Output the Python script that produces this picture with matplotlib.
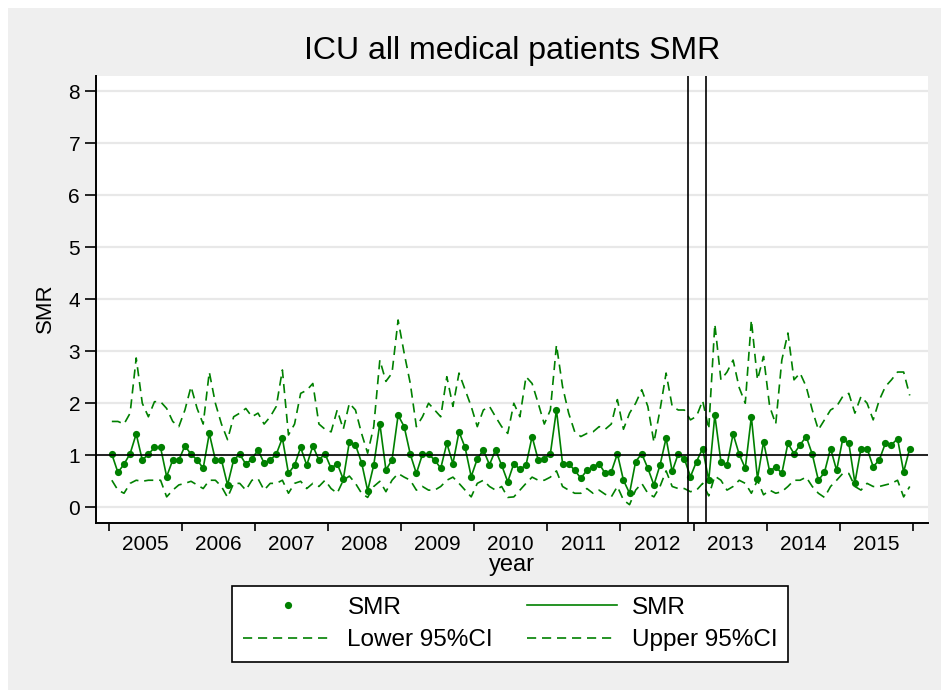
import numpy as np
import matplotlib
matplotlib.use("Agg")
import matplotlib.pyplot as plt
from matplotlib.patches import Rectangle

# monthly SMR, Jan 2005 - Dec 2015
smr = [1.02, 0.67, 0.83, 1.03, 1.41, 0.91, 1.02, 1.15, 1.15, 0.59, 0.91, 0.91,
       1.18, 1.02, 0.91, 0.75, 1.42, 0.91, 0.91, 0.43, 0.91, 1.02, 0.83, 0.93,
       1.10, 0.85, 0.91, 1.02, 1.33, 0.65, 0.81, 1.15, 0.81, 1.18, 0.91, 1.03,
       0.75, 0.84, 0.54, 1.26, 1.20, 0.86, 0.32, 0.81, 1.61, 0.72, 0.91, 1.77,
       1.55, 1.02, 0.65, 1.02, 1.02, 0.91, 0.75, 1.23, 0.84, 1.45, 1.15, 0.59,
       0.93, 1.10, 0.82, 1.10, 0.81, 0.49, 0.84, 0.73, 0.81, 1.36, 0.91, 0.93,
       1.03, 1.87, 0.84, 0.84, 0.71, 0.56, 0.71, 0.78, 0.84, 0.65, 0.68, 1.03,
       0.52, 0.27, 0.88, 1.03, 0.75, 0.43, 0.81, 1.33, 0.69, 1.03, 0.93, 0.59,
       0.88, 1.13, 0.52, 1.77, 0.88, 0.81, 1.41, 1.02, 0.75, 1.74, 0.55, 1.26,
       0.69, 0.78, 0.65, 1.23, 1.03, 1.20, 1.36, 1.02, 0.52, 0.67, 1.13, 0.71,
       1.31, 1.23, 0.47, 1.13, 1.13, 0.78, 0.91, 1.23, 1.20, 1.32, 0.68, 1.13]

upper = [1.65, 1.65, 1.60, 1.81, 2.87, 2.00, 1.74, 2.03, 2.03, 1.90, 1.65, 1.55,
         1.87, 2.32, 1.90, 1.60, 2.60, 2.00, 1.60, 1.30, 1.74, 1.81, 1.90, 1.74,
         1.81, 1.60, 1.74, 1.94, 2.64, 1.39, 1.60, 2.19, 2.25, 2.38, 1.60, 1.50,
         1.45, 1.87, 1.50, 2.00, 1.87, 1.42, 1.04, 1.55, 2.83, 2.42, 2.58, 3.60,
         2.96, 2.38, 1.55, 1.74, 2.00, 1.87, 1.74, 2.51, 1.94, 2.58, 2.26, 1.94,
         1.55, 1.87, 1.94, 1.74, 1.55, 1.42, 2.00, 1.74, 2.51, 2.38, 2.00, 1.60,
         1.87, 3.12, 2.32, 1.81, 1.45, 1.36, 1.42, 1.45, 1.55, 1.50, 1.60, 2.07,
         1.50, 1.81, 2.00, 2.26, 1.94, 1.25, 1.87, 2.58, 1.94, 1.87, 1.87, 1.68,
         1.75, 2.05, 1.50, 3.52, 2.45, 2.60, 2.83, 2.30, 2.00, 3.60, 2.45, 2.90,
         1.94, 1.60, 2.83, 3.35, 2.45, 2.58, 2.32, 1.87, 1.49, 1.68, 1.87, 1.94,
         2.13, 2.19, 1.81, 2.13, 2.00, 1.68, 2.06, 2.32, 2.45, 2.60, 2.60, 2.15]

lower = [0.52, 0.33, 0.27, 0.46, 0.52, 0.50, 0.52, 0.52, 0.52, 0.20, 0.33, 0.43,
         0.46, 0.50, 0.43, 0.36, 0.52, 0.52, 0.40, 0.19, 0.46, 0.46, 0.33, 0.52,
         0.55, 0.33, 0.46, 0.46, 0.52, 0.27, 0.46, 0.50, 0.36, 0.46, 0.40, 0.52,
         0.36, 0.27, 0.52, 0.60, 0.46, 0.27, 0.19, 0.40, 0.50, 0.30, 0.52, 0.65,
         0.58, 0.52, 0.33, 0.40, 0.33, 0.33, 0.40, 0.52, 0.58, 0.46, 0.33, 0.20,
         0.46, 0.52, 0.40, 0.33, 0.40, 0.19, 0.20, 0.33, 0.46, 0.58, 0.52, 0.52,
         0.58, 0.70, 0.40, 0.33, 0.27, 0.27, 0.36, 0.27, 0.33, 0.25, 0.20, 0.40,
         0.14, 0.05, 0.33, 0.46, 0.27, 0.20, 0.40, 0.70, 0.40, 0.36, 0.36, 0.30,
         0.33, 0.46, 0.22, 0.60, 0.52, 0.33, 0.40, 0.52, 0.46, 0.27, 0.52, 0.24,
         0.33, 0.27, 0.30, 0.40, 0.52, 0.52, 0.58, 0.40, 0.27, 0.19, 0.40, 0.52,
         0.65, 0.65, 0.40, 0.33, 0.46, 0.40, 0.40, 0.43, 0.46, 0.52, 0.20, 0.40]

years = [str(y) for y in range(2005, 2016)]
ref_line = 1.0
vlines = [94.6, 97.5]

green = "#008000"
plt.rcParams["font.family"] = ["Liberation Sans", "DejaVu Sans"]

fig = plt.figure(figsize=(9.41, 6.9), dpi=100, facecolor="white")
fig.patches.append(Rectangle((8 / 941, 0), 1, 682 / 690, transform=fig.transFigure,
                             facecolor="#efefef", edgecolor="none", zorder=-10))

ax = fig.add_axes([96 / 941, (690 - 522.7) / 690, 832 / 941, 446.7 / 690])
ax.set_facecolor("white")

x = np.arange(len(smr))
sc = ax.scatter(x, smr, s=27, color=green, zorder=4, label="SMR", linewidths=0)
ln, = ax.plot(x, smr, color=green, lw=1.2, zorder=3, label="SMR")
lo, = ax.plot(x, lower, color=green, lw=1.2, dashes=(5.5, 3.5), zorder=3, label="Lower 95%CI")
up, = ax.plot(x, upper, color=green, lw=1.2, dashes=(5.5, 3.5), zorder=3, label="Upper 95%CI")

ax.axhline(ref_line, color="black", lw=1.2, zorder=5)
for v in vlines:
    ax.axvline(v, color="black", lw=1.2, zorder=5)

ax.set_xlim(-2.6, 134.0)
ax.set_ylim(-0.296, 8.29)

ax.set_yticks(range(0, 9))
ax.yaxis.grid(True, color="#e8e8e8", lw=1.6, zorder=0)
ax.set_axisbelow(True)

ax.set_xticks([-0.5 + 12 * k for k in range(12)])
ax.set_xticklabels([])
ax.set_xticks([5.5 + 12 * k for k in range(11)], minor=True)
ax.set_xticklabels(years, minor=True)
ax.tick_params(axis="x", which="minor", length=0, pad=9, labelsize=15)
ax.tick_params(axis="x", which="major", length=6, width=1.2)
ax.tick_params(axis="y", length=8, width=1.2, labelsize=15, pad=3.5)

for s in ["top", "right"]:
    ax.spines[s].set_visible(False)
for s in ["left", "bottom"]:
    ax.spines[s].set_linewidth(1.4)

ax.set_title("ICU all medical patients SMR", fontsize=23, pad=12)
ax.set_xlabel("year", fontsize=17, va="center")
ax.xaxis.set_label_coords(0.5, (522.7 - 565) / 446.7)
ax.set_ylabel("SMR", fontsize=16, va="center", ha="center")
ax.yaxis.set_label_coords((45 - 96) / 832, (522.7 - 308) / 446.7)

leg = fig.legend(handles=[sc, lo, ln, up], ncol=2, loc="upper left",
                 bbox_to_anchor=(232 / 941, (690 - 586) / 690), borderaxespad=0,
                 fontsize=17.5, frameon=True, fancybox=False,
                 edgecolor="black", facecolor="white", framealpha=1,
                 handlelength=3.7, handletextpad=0.6, columnspacing=1.4,
                 labelspacing=0.42, borderpad=0.45,
                 scatterpoints=1, scatteryoffsets=[0.5])
leg.get_frame().set_linewidth(1.2)

fig.savefig("out.png", dpi=100, facecolor=fig.get_facecolor())
